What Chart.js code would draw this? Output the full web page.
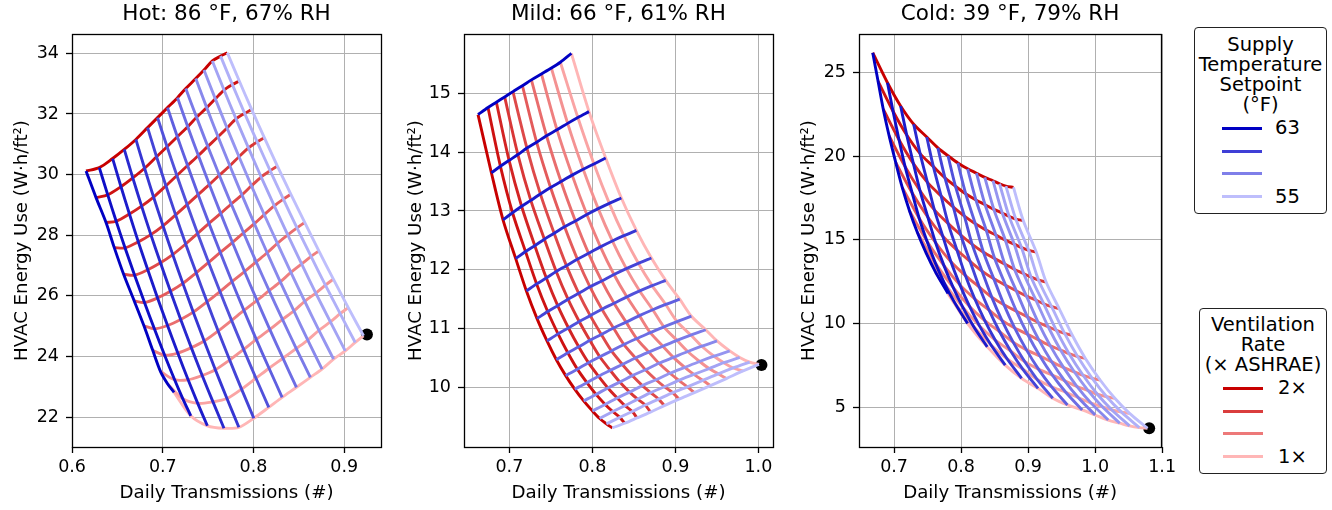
<!DOCTYPE html>
<html><head><meta charset="utf-8">
<script src="https://cdn.jsdelivr.net/npm/chart.js@4.4.1/dist/chart.umd.min.js"></script>
<style>
html,body{margin:0;padding:0;background:#fff;}
body{width:1332px;height:510px;position:relative;overflow:hidden;font-family:'DejaVu Sans',sans-serif;}
canvas{position:absolute;top:0;}
.box{position:absolute;border:1.3px solid #222;border-radius:4px;box-sizing:border-box;}
.t{position:absolute;font-size:19.5px;line-height:20px;white-space:nowrap;transform:translateX(-50%);color:#000;}
.lbl{position:absolute;font-size:19.5px;line-height:20px;white-space:nowrap;color:#000;}
.ln{position:absolute;height:3px;}
</style></head><body>
<canvas id="c1" width="400" height="510" style="left:0px"></canvas>
<canvas id="c2" width="390" height="510" style="left:400px"></canvas>
<canvas id="c3" width="390" height="510" style="left:790px"></canvas>
<div id="legends"></div>
<script>
// ---------- categories ----------
const supplyTempLevels = 15;          // 63 °F ... 55 °F (dark -> light blue)
const ventLevels = [2.0,1.9,1.8,1.7,1.6,1.5,1.4,1.3,1.2,1.1,1.0]; // × ASHRAE (dark -> light red)
const panelTitles = ['Hot: 86 °F, 67% RH','Mild: 66 °F, 61% RH','Cold: 39 °F, 79% RH'];
const xAxisTitle = 'Daily Transmissions (#)';
const yAxisTitle = 'HVAC Energy Use (W·h/ft²)';

// ---------- tick labels ----------
const hotXTicks = [0.6,0.7,0.8,0.9];
const hotYTicks = [22,24,26,28,30,32,34];
const mildXTicks = [0.7,0.8,0.9,1.0];
const mildYTicks = [10,11,12,13,14,15];
const coldXTicks = [0.7,0.8,0.9,1.0,1.1];
const coldYTicks = [5,10,15,20,25];

// ---------- Hot panel: rows = ventilation (2x -> 1x), cols = supply temp (63 -> 55) ----------
const hotX = [
 [0.6154,0.6300,0.6447,0.6575,0.6703,0.6832,0.6942,0.7052,0.7162,0.7253,0.7363,0.7454,0.7546,0.7637,0.7711],
 [0.6264,0.6393,0.6539,0.6669,0.6799,0.6931,0.7047,0.7160,0.7275,0.7372,0.7484,0.7579,0.7675,0.7767,0.7843],
 [0.6374,0.6486,0.6632,0.6766,0.6898,0.7034,0.7155,0.7273,0.7392,0.7496,0.7609,0.7708,0.7807,0.7902,0.7979],
 [0.6465,0.6584,0.6730,0.6868,0.7002,0.7141,0.7268,0.7389,0.7513,0.7623,0.7739,0.7840,0.7944,0.8040,0.8119],
 [0.6568,0.6689,0.6834,0.6974,0.7109,0.7252,0.7384,0.7509,0.7638,0.7754,0.7872,0.7977,0.8084,0.8183,0.8263],
 [0.6685,0.6798,0.6942,0.7084,0.7221,0.7368,0.7505,0.7634,0.7768,0.7890,0.8009,0.8118,0.8229,0.8329,0.8412],
 [0.6792,0.6907,0.7052,0.7197,0.7336,0.7487,0.7630,0.7762,0.7901,0.8029,0.8150,0.8263,0.8377,0.8479,0.8564],
 [0.6889,0.7020,0.7165,0.7314,0.7456,0.7610,0.7758,0.7894,0.8038,0.8172,0.8295,0.8412,0.8530,0.8634,0.8720],
 [0.6975,0.7130,0.7279,0.7434,0.7579,0.7737,0.7891,0.8030,0.8179,0.8319,0.8445,0.8564,0.8686,0.8792,0.8880],
 [0.7052,0.7221,0.7385,0.7553,0.7707,0.7868,0.8027,0.8171,0.8324,0.8471,0.8598,0.8721,0.8847,0.8955,0.9044],
 [0.7124,0.7308,0.7491,0.7674,0.7838,0.8003,0.8168,0.8315,0.8473,0.8626,0.8755,0.8882,0.9011,0.9121,0.9212]
];
const hotY = [
 [30.12,30.23,30.53,30.83,31.16,31.55,31.88,32.21,32.54,32.84,33.17,33.45,33.75,33.91,34.02],
 [29.24,29.33,29.60,29.89,30.21,30.59,30.92,31.25,31.58,31.89,32.21,32.50,32.79,32.97,33.09],
 [28.42,28.46,28.70,28.96,29.26,29.63,29.97,30.30,30.63,30.93,31.25,31.54,31.84,32.02,32.15],
 [27.59,27.58,27.78,28.02,28.31,28.67,29.01,29.34,29.67,29.98,30.29,30.59,30.88,31.08,31.22],
 [26.71,26.68,26.86,27.09,27.36,27.71,28.06,28.39,28.72,29.03,29.33,29.63,29.92,30.13,30.28],
 [25.83,25.78,25.93,26.15,26.41,26.76,27.10,27.43,27.76,28.08,28.38,28.68,28.97,29.19,29.35],
 [25.01,24.91,25.02,25.22,25.46,25.80,26.14,26.47,26.80,27.12,27.42,27.73,28.01,28.24,28.42],
 [24.20,24.04,24.11,24.29,24.51,24.84,25.19,25.52,25.85,26.17,26.46,26.77,27.05,27.30,27.48],
 [23.50,23.23,23.23,23.37,23.56,23.88,24.23,24.56,24.89,25.22,25.50,25.82,26.09,26.35,26.55],
 [23.10,22.60,22.45,22.50,22.61,22.92,23.28,23.61,23.94,24.26,24.54,24.86,25.14,25.41,25.61],
 [22.81,22.04,21.71,21.63,21.66,21.96,22.32,22.65,22.98,23.31,23.58,23.91,24.18,24.46,24.68]
];
const hotBaseline = {x:0.925, y:24.72};

// ---------- Mild panel: rows = supply temp (63 -> 55), cols = ventilation (2x -> 1x) ----------
const mildX = [
 [0.6622,0.6742,0.6843,0.6943,0.7043,0.7157,0.7265,0.7386,0.7506,0.7614,0.7747],
 [0.6783,0.6892,0.6996,0.7102,0.7211,0.7328,0.7447,0.7574,0.7702,0.7825,0.7959],
 [0.6923,0.7038,0.7147,0.7258,0.7373,0.7496,0.7622,0.7756,0.7889,0.8019,0.8160],
 [0.7076,0.7194,0.7306,0.7421,0.7539,0.7665,0.7795,0.7933,0.8070,0.8204,0.8349],
 [0.7205,0.7328,0.7445,0.7564,0.7687,0.7819,0.7954,0.8097,0.8240,0.8379,0.8530],
 [0.7333,0.7461,0.7582,0.7706,0.7835,0.7971,0.8112,0.8260,0.8409,0.8554,0.8711],
 [0.7453,0.7586,0.7712,0.7841,0.7974,0.8115,0.8261,0.8415,0.8570,0.8720,0.8883],
 [0.7566,0.7704,0.7835,0.7969,0.8107,0.8254,0.8406,0.8566,0.8727,0.8883,0.9052],
 [0.7678,0.7819,0.7952,0.8089,0.8230,0.8379,0.8534,0.8698,0.8861,0.9020,0.9193],
 [0.7787,0.7934,0.8073,0.8215,0.8361,0.8518,0.8679,0.8849,0.9019,0.9185,0.9365],
 [0.7895,0.8044,0.8186,0.8330,0.8480,0.8639,0.8802,0.8976,0.9149,0.9318,0.9501],
 [0.8000,0.8154,0.8299,0.8448,0.8602,0.8766,0.8935,0.9113,0.9292,0.9465,0.9654],
 [0.8088,0.8245,0.8393,0.8545,0.8702,0.8869,0.9041,0.9223,0.9406,0.9583,0.9775],
 [0.8169,0.8330,0.8481,0.8637,0.8797,0.8968,0.9144,0.9331,0.9517,0.9698,0.9895],
 [0.8240,0.8389,0.8537,0.8699,0.8867,0.9043,0.9229,0.9422,0.9614,0.9815,1.0007]
];
const mildY = [
 [14.64,14.76,14.85,14.94,15.03,15.13,15.23,15.33,15.43,15.53,15.68],
 [13.65,13.76,13.86,13.96,14.07,14.17,14.28,14.38,14.49,14.59,14.69],
 [12.85,12.97,13.08,13.18,13.29,13.40,13.50,13.61,13.71,13.80,13.90],
 [12.19,12.31,12.41,12.52,12.62,12.73,12.83,12.94,13.04,13.13,13.22],
 [11.64,11.76,11.86,11.97,12.07,12.18,12.28,12.39,12.49,12.58,12.67],
 [11.17,11.29,11.39,11.50,11.60,11.71,11.81,11.92,12.02,12.11,12.20],
 [10.79,10.91,11.01,11.12,11.22,11.33,11.43,11.54,11.64,11.73,11.82],
 [10.47,10.59,10.69,10.80,10.90,11.01,11.11,11.22,11.32,11.41,11.50],
 [10.20,10.31,10.42,10.52,10.62,10.73,10.83,10.93,11.03,11.12,11.21],
 [9.97,10.08,10.19,10.29,10.39,10.50,10.60,10.70,10.80,10.89,10.98],
 [9.77,9.88,9.99,10.09,10.20,10.30,10.41,10.51,10.61,10.70,10.79],
 [9.60,9.71,9.82,9.92,10.03,10.13,10.24,10.34,10.44,10.53,10.62],
 [9.47,9.59,9.69,9.80,9.91,10.01,10.12,10.22,10.32,10.42,10.51],
 [9.38,9.49,9.59,9.70,9.80,9.91,10.01,10.12,10.23,10.33,10.43],
 [9.31,9.39,9.48,9.58,9.69,9.80,9.91,10.03,10.15,10.28,10.39]
];
const mildBaseline = {x:1.0037, y:10.38};

// ---------- Cold panel: rows = supply temp (63 -> 55), cols = ventilation (2x -> 1x) ----------
const coldX = [
 [0.6682,0.6761,0.6839,0.6927,0.7025,0.7122,0.7230,0.7347,0.7473,0.7619,0.7805],
 [0.6902,0.6985,0.7074,0.7165,0.7271,0.7375,0.7492,0.7617,0.7750,0.7904,0.8098],
 [0.7098,0.7189,0.7289,0.7388,0.7505,0.7619,0.7745,0.7882,0.8025,0.8187,0.8391],
 [0.7293,0.7389,0.7498,0.7602,0.7728,0.7849,0.7983,0.8127,0.8277,0.8447,0.8659],
 [0.7488,0.7587,0.7702,0.7808,0.7938,0.8066,0.8204,0.8354,0.8511,0.8686,0.8903],
 [0.7654,0.7760,0.7885,0.7996,0.8135,0.8272,0.8418,0.8576,0.8742,0.8923,0.9148],
 [0.7805,0.7916,0.8050,0.8166,0.8313,0.8458,0.8610,0.8777,0.8949,0.9137,0.9368],
 [0.7952,0.8069,0.8212,0.8334,0.8489,0.8641,0.8801,0.8976,0.9155,0.9349,0.9587],
 [0.8098,0.8222,0.8375,0.8502,0.8665,0.8826,0.8993,0.9176,0.9363,0.9562,0.9807],
 [0.8230,0.8358,0.8520,0.8653,0.8823,0.8990,0.9163,0.9354,0.9547,0.9751,1.0001],
 [0.8354,0.8489,0.8661,0.8799,0.8976,0.9152,0.9332,0.9531,0.9731,0.9941,1.0196],
 [0.8476,0.8615,0.8794,0.8934,0.9117,0.9300,0.9484,0.9689,0.9896,1.0109,1.0368],
 [0.8574,0.8717,0.8903,0.9046,0.9234,0.9423,0.9612,0.9823,1.0034,1.0251,1.0514],
 [0.8669,0.8816,0.9010,0.9157,0.9351,0.9545,0.9739,0.9957,1.0173,1.0394,1.0660],
 [0.8782,0.8928,0.9123,0.9269,0.9464,0.9660,0.9855,1.0075,1.0294,1.0514,1.0782]
];
const coldY = [
 [26.17,24.48,22.80,21.21,19.62,18.13,16.74,15.45,14.26,13.07,11.79],
 [24.38,22.68,20.98,19.37,17.79,16.29,14.91,13.61,12.42,11.25,10.00],
 [22.99,21.26,19.55,17.93,16.35,14.84,13.46,12.16,10.98,9.83,8.61],
 [21.90,20.15,18.43,16.79,15.21,13.69,12.31,11.02,9.85,8.72,7.52],
 [21.14,19.37,17.62,15.97,14.39,12.86,11.48,10.18,9.01,7.90,6.73],
 [20.49,18.70,16.95,15.29,13.71,12.18,10.80,9.51,8.35,7.27,6.13],
 [20.02,18.20,16.41,14.73,13.13,11.58,10.19,8.89,7.73,6.66,5.54],
 [19.59,17.75,15.96,14.26,12.67,11.12,9.73,8.43,7.28,6.23,5.14],
 [19.24,17.38,15.58,13.88,12.29,10.74,9.36,8.06,6.92,5.90,4.84],
 [18.98,17.10,15.28,13.55,11.96,10.40,9.01,7.71,6.58,5.57,4.54],
 [18.73,16.82,14.98,13.23,11.64,10.06,8.67,7.37,6.24,5.25,4.24],
 [18.53,16.60,14.74,12.99,11.40,9.81,8.42,7.12,6.00,5.03,4.05],
 [18.35,16.40,14.53,12.77,11.18,9.59,8.20,6.90,5.78,4.84,3.89],
 [18.21,16.24,14.37,12.59,11.01,9.41,8.03,6.73,5.63,4.71,3.79],
 [18.13,16.15,14.26,12.48,10.89,9.30,7.92,6.63,5.54,4.64,3.75]
];
const coldBaseline = {x:1.0807, y:3.75};

// ---------- legend text ----------
const tempLegendTitle = ['Supply','Temperature','Setpoint','(°F)'];
const tempLegendLabels = ['63','','','55'];
const ventLegendTitle = ['Ventilation','Rate','(× ASHRAE)'];
const ventLegendLabels = ['2×','','','1×'];

// ---------- styling ----------
const FONT = "'DejaVu Sans', sans-serif";
const BLUE_DARK=[0,0,195], BLUE_LIGHT=[190,190,252], RED_DARK=[200,0,0], RED_LIGHT=[255,182,182];
function mix(a,b,s){return 'rgb('+a.map((c,i)=>Math.round(c+(b[i]-c)*s)).join(',')+')';}
const blueColor = s => mix(BLUE_DARK,BLUE_LIGHT,s);
const redColor = s => mix(RED_DARK,RED_LIGHT,s);

const boxPlugin = {
  id:'boxFrame',
  afterDatasetsDraw(chart){
    const {ctx, chartArea:a} = chart;
    ctx.save(); ctx.strokeStyle='#000'; ctx.lineWidth=1.3;
    ctx.strokeRect(Math.round(a.left)+0.5, Math.round(a.top)+0.5, Math.round(a.right-a.left), Math.round(a.bottom-a.top));
    ctx.restore();
  }
};

function makePanel(id, p){
  const nT = supplyTempLevels, nV = ventLevels.length;
  const pt = (t,v) => p.rowsAreTemp ? {x:p.gx[t][v], y:p.gy[t][v]} : {x:p.gx[v][t], y:p.gy[v][t]};
  const datasets = [];
  datasets.push({data:[p.dot], showLine:false, pointRadius:6, pointBackgroundColor:'#000', pointBorderWidth:0, order:3});
  for(let v=0; v<nV; v++){
    const pts=[]; for(let t=0;t<nT;t++) pts.push(pt(t,v));
    datasets.push({data:pts, showLine:true, borderColor:redColor(v/(nV-1)), borderWidth:2.9, pointRadius:0, tension:0.3, order:2});
  }
  for(let t=0;t<nT;t++){
    const pts=[]; for(let v=0; v<nV; v++) pts.push(pt(t,v));
    datasets.push({data:pts, showLine:true, borderColor:blueColor(t/(nT-1)), borderWidth:2.9, pointRadius:0, tension:0.3, order:1});
  }
  const gridOpts = {color:'#b0b0b0', lineWidth:1, tickColor:'#000', tickLength:6, tickWidth:1.3, drawTicks:true};
  new Chart(document.getElementById(id), {
    type:'scatter',
    data:{datasets},
    options:{
      responsive:false, animation:false, events:[],
      devicePixelRatio:1,
      layout:{padding:{left:0, right:p.padRight, top:0, bottom:0}},
      plugins:{
        legend:{display:false}, tooltip:{enabled:false},
        title:{display:true, text:p.title, fullSize:false, color:'#000', font:{family:FONT, size:21.5, weight:'normal'}, padding:{top:2, bottom:6.2}}
      },
      scales:{
        x:{type:'linear', min:p.xMin, max:p.xMax, bounds:'data',
           afterBuildTicks: s => { s.ticks = p.xTicks.map(v=>({value:v})); },
           afterFit: s => { s.height = 63; },
           ticks:{callback:v=>v.toFixed(1), color:'#000', font:{family:FONT, size:17.5}, padding:4, maxRotation:0, autoSkip:false},
           grid:gridOpts, border:{display:false},
           title:{display:true, text:xAxisTitle, color:'#000', font:{family:FONT, size:18.2}, padding:{top:0, bottom:6}}},
        y:{type:'linear', min:p.yMin, max:p.yMax, bounds:'data',
           afterBuildTicks: s => { s.ticks = p.yTicks.map(v=>({value:v})); },
           afterFit: s => { s.width = p.yAxisWidth; },
           ticks:{callback:v=>v.toFixed(0), color:'#000', font:{family:FONT, size:17.5}, padding:7, autoSkip:false},
           grid:gridOpts, border:{display:false},
           title:{display:true, text:yAxisTitle, color:'#000', font:{family:FONT, size:18.2}, padding:{top:p.yTitlePad, bottom:0}}}
      }
    },
    plugins:[boxPlugin]
  });
}

makePanel('c1', {title:panelTitles[0], gx:hotX, gy:hotY, rowsAreTemp:false, dot:hotBaseline,
  xMin:0.5999, xMax:0.9405, yMin:21.01, yMax:34.64, xTicks:hotXTicks, yTicks:hotYTicks,
  yAxisWidth:72, padRight:19, yTitlePad:11.1});
makePanel('c2', {title:panelTitles[1], gx:mildX, gy:mildY, rowsAreTemp:true, dot:mildBaseline,
  xMin:0.6453, xMax:1.0176, yMin:8.986, yMax:16.01, xTicks:mildXTicks, yTicks:mildYTicks,
  yAxisWidth:64, padRight:17, yTitlePad:5.1});
makePanel('c3', {title:panelTitles[2], gx:coldX, gy:coldY, rowsAreTemp:true, dot:coldBaseline,
  xMin:0.6477, xMax:1.0987, yMin:2.63, yMax:27.29, xTicks:coldXTicks, yTicks:coldYTicks,
  yAxisWidth:69, padRight:12, yTitlePad:8.1});

// ---------- legends (HTML) ----------
function makeLegend(box, titleLines, labels, colorFn){
  const root = document.getElementById('legends');
  const b = document.createElement('div'); b.className='box';
  Object.assign(b.style,{left:box.left+'px', top:box.top+'px', width:box.width+'px', height:box.height+'px'});
  root.appendChild(b);
  const cx = box.left + box.width/2;
  titleLines.forEach((txt,i)=>{
    const d=document.createElement('div'); d.className='t'; d.textContent=txt;
    Object.assign(d.style,{left:cx+'px', top:(box.titleTop + i*20)+'px'}); root.appendChild(d);
  });
  labels.forEach((txt,i)=>{
    const yc = box.entryTop + i*22.8;
    const l=document.createElement('div'); l.className='ln';
    Object.assign(l.style,{left:box.lineLeft+'px', width:'40px', top:(yc-1.5)+'px', background:colorFn(i/(labels.length-1))});
    root.appendChild(l);
    if(txt){
      const s=document.createElement('div'); s.className='lbl'; s.textContent=txt;
      Object.assign(s.style,{left:box.labelLeft+'px', top:(yc-10)+'px'}); root.appendChild(s);
    }
  });
}
makeLegend({left:1194, top:27, width:133, height:187, titleTop:35, entryTop:128.3, lineLeft:1222, labelLeft:1275},
  tempLegendTitle, tempLegendLabels, blueColor);
makeLegend({left:1199, top:308, width:128, height:166, titleTop:315, entryTop:388.3, lineLeft:1223, labelLeft:1278},
  ventLegendTitle, ventLegendLabels, redColor);
</script>
</body></html>
